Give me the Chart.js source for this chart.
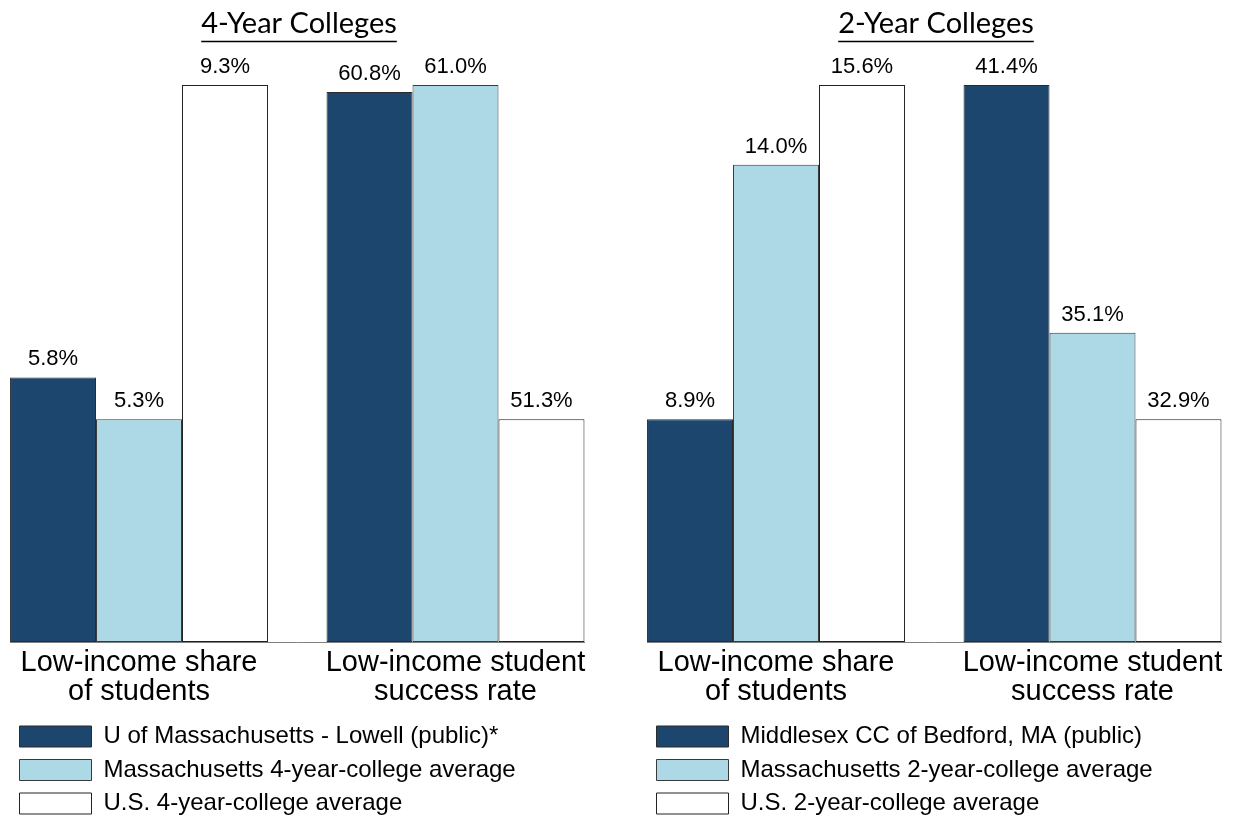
<!DOCTYPE html>
<html><head><meta charset="utf-8">
<script src="https://cdn.jsdelivr.net/npm/chart.js@4"></script>
<style>
html,body{margin:0;padding:0;background:#fff;}
#wrap{position:relative;width:1238px;height:819px;overflow:hidden;}
#c1{position:absolute;left:0;top:0;}
#c2{position:absolute;left:637px;top:0;}
</style></head><body>
<div id="wrap"><canvas id="c1" width="637" height="819"></canvas><canvas id="c2" width="601" height="819"></canvas></div>
<script>
// ---- data ----
const groupLabels = [["Low-income share", "of students"], ["Low-income student", "success rate"]];
const panelTitles = ["4-Year Colleges", "2-Year Colleges"];
const seriesNames4 = ["U of Massachusetts - Lowell (public)*", "Massachusetts 4-year-college average", "U.S. 4-year-college average"];
const seriesNames2 = ["Middlesex CC of Bedford, MA (public)", "Massachusetts 2-year-college average", "U.S. 2-year-college average"];
// values per series: [low-income share, low-income success rate]
const inst4 = [5.8, 60.8];
const state4 = [5.3, 61.0];
const us4 = [9.3, 51.3];
const inst2 = [8.9, 41.4];
const state2 = [14.0, 35.1];
const us2 = [15.6, 32.9];

// ---- styles ----
const fillColors = ["#1c466e", "#add8e6", "#ffffff"];
const edgeColors = ["#2b2b2b", "#3a3a3a", "#222222"];
const LOW_FRACTION = 0.4; // lowest bar of a group fills 40% of the plot height

const valueLabels = {
  id: 'valueLabels',
  afterDatasetsDraw(chart) {
    const ctx = chart.ctx;
    ctx.save();
    ctx.font = '22px "Liberation Sans", Arial, sans-serif';
    ctx.fillStyle = '#000';
    ctx.textAlign = 'center';
    ctx.textBaseline = 'alphabetic';
    chart.data.datasets.forEach((ds, i) => {
      const meta = chart.getDatasetMeta(i);
      meta.data.forEach((el, j) => {
        const v = ds.data[j].y;
        ctx.fillText(v.toFixed(1) + '%', el.x, el.y - 12);
      });
    });
    ctx.restore();
  }
};

const panelTitle = {
  id: 'panelTitle',
  afterDraw(chart, args, opts) {
    const {ctx, chartArea} = chart;
    ctx.save();
    ctx.font = '29px Lato, "DejaVu Sans", sans-serif';
    const cx = (chartArea.left + chartArea.right) / 2 + 2;
    ctx.textAlign = 'center';
    ctx.textBaseline = 'alphabetic';
    ctx.fillStyle = '#000';
    ctx.fillText(opts.text, cx, 33);
    const w = ctx.measureText(opts.text).width;
    ctx.beginPath();
    ctx.moveTo(cx - w / 2, 41.5);
    ctx.lineTo(cx + w / 2, 41.5);
    ctx.lineWidth = 1.5;
    ctx.strokeStyle = '#000';
    ctx.stroke();
    ctx.restore();
  }
};

function groupRange(series, g) {
  const vals = series.map(s => s[g]);
  const lo = Math.min(...vals), hi = Math.max(...vals);
  return {min: (lo - LOW_FRACTION * hi) / (1 - LOW_FRACTION), max: hi};
}

function makeChart(id, title, names, series, padRight) {
  const ranges = [groupRange(series, 0), groupRange(series, 1)];
  const datasets = [];
  series.forEach((vals, s) => {
    vals.forEach((v, g) => {
      datasets.push({
        label: names[s],
        data: [{x: g, y: v}],
        yAxisID: 'y' + g,
        base: ranges[g].min,
        backgroundColor: fillColors[s],
        borderColor: edgeColors[s],
        borderWidth: 1,
        borderSkipped: false,
        skipNull: true,
        clip: false,
        categoryPercentage: 0.815,
        barPercentage: 1.0
      });
    });
  });
  return new Chart(document.getElementById(id), {
    type: 'bar',
    data: {datasets},
    plugins: [valueLabels, panelTitle],
    options: {
      responsive: false,
      animation: false,
      devicePixelRatio: 1,
      events: [],
      layout: {padding: {top: 85, left: 10, right: padRight, bottom: 4}},
      scales: {
        x: {
          type: 'linear',
          offset: false,
          bounds: 'data',
          min: -0.4076, max: 1.406,
          afterBuildTicks: (sc) => { sc.ticks = groupLabels.map((_, i) => ({value: i})); },
          afterFit: (sc) => { sc.height = 73; },
          ticks: {
            callback: (v) => groupLabels[v],
            autoSkip: false, maxRotation: 0, minRotation: 0,
            padding: 6,
            color: '#000',
            font: {family: '"Liberation Sans", Arial, sans-serif', size: 29, lineHeight: 1.0}
          },
          grid: {display: false, drawTicks: false, offset: false},
          border: {display: true, color: '#808080', width: 1}
        },
        y0: {type: 'linear', display: false, stacked: false, min: ranges[0].min, max: ranges[0].max},
        y1: {type: 'linear', display: false, stacked: false, min: ranges[1].min, max: ranges[1].max}
      },
      plugins: {
        tooltip: {enabled: false},
        title: {display: false},
        panelTitle: {text: title},
        legend: {
          position: 'bottom',
          align: 'start',
          maxHeight: 100,
          labels: {
            boxWidth: 72, boxHeight: 21, padding: 9.5,
            color: '#000',
            font: {family: '"Liberation Sans", Arial, sans-serif', size: 24},
            filter: (item) => item.datasetIndex % 2 === 0
          }
        }
      }
    }
  });
}

makeChart('c1', panelTitles[0], seriesNames4, [inst4, state4, us4], 53);
makeChart('c2', panelTitles[1], seriesNames2, [inst2, state2, us2], 17);
</script>
</body></html>
